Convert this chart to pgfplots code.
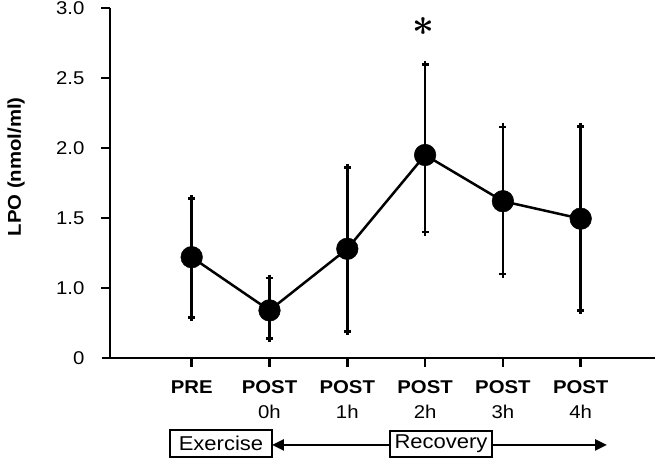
\documentclass[border=0pt]{standalone}
\usepackage{pgfplots}
\pgfplotsset{compat=1.18}
\usepackage{pgfplotstable}
\usepackage{graphicx}
\usepackage{fontspec}
\setmainfont{Liberation Sans}[FakeStretch=1.1]
\usetikzlibrary{arrows.meta}

% LPO concentration: mean, upper and lower error
\pgfplotstableread{
x y     ep    em
0 1.22  0.42  0.43
1 0.84  0.23  0.20
2 1.28  0.58  0.59
3 1.95  0.645 0.55
4 1.62  0.53  0.52
5 1.495 0.66  0.655
}\lpo

\newcommand\lab{\fontsize{18.5}{25}\selectfont}
\protected\def\bigast{\scalebox{3.8}{\boldmath$\ast$}}

\begin{document}
\begin{tikzpicture}
\useasboundingbox (0pt,0pt) rectangle (659pt,466pt);
\begin{axis}[
  at={(110pt,108pt)}, anchor=south west,
  scale only axis, width=545pt, height=350pt,
  xmin=-1.050, xmax=5.955,
  ymin=0.5, ymax=3.0,
  axis x line=bottom, axis y line=left,
  axis line style={line width=2.5pt, black, -},
  tick align=outside,
  major tick length=8pt,
  every tick/.style={line width=2.5pt, black},
  xtick={0,1,2,3,4,5},
  xticklabels={\textbf{PRE}, {\textbf{POST}\\0h}, {\textbf{POST}\\1h},
               {\textbf{POST}\\2h}, {\textbf{POST}\\3h}, {\textbf{POST}\\4h}},
  xticklabel style={align=center, font=\lab, anchor=north, yshift=-11pt},
  ytick={0.5,1,1.5,2,2.5,3},
  yticklabels={0,1.0,1.5,2.0,2.5,3.0},
  yticklabel style={font=\lab, anchor=east, xshift=-14pt},
  ylabel={\textbf{LPO (nmol/ml)}},
  ylabel style={at={(axis description cs:-0.1725,0.546)}, anchor=center,
                font=\fontsize{18.5}{22}\selectfont},
  clip=false,
  seg/.style={forget plot, black, line width=2.5pt, mark=none},
]
% axis frame and outward ticks
\addplot[seg] coordinates {(-1.050,3.0) (-1.050,0.5) (5.955,0.5)};
\pgfplotsinvokeforeach{0,1,2,3,4,5}{
  \addplot[seg] coordinates {(#1,0.5) (#1,0.436)};
}
\pgfplotsinvokeforeach{1,1.5,2,2.5,3}{
  \addplot[seg] coordinates {(-1.050,#1) (-1.166,#1)};
}
% error bars
\addplot[forget plot, black, line width=2.5pt, only marks, mark=none,
  error bars/.cd, y dir=both, y explicit,
  error bar style={line width=2.5pt, black},
  error mark options={line width=2.5pt, mark size=3.6pt, black}]
  table[x=x, y=y, y error plus=ep, y error minus=em] {\lpo};
% caps at the bar ends
\addplot[seg] coordinates {(-0.046,1.64)  (0.046,1.64)};
\addplot[seg] coordinates {(-0.046,0.79)  (0.046,0.79)};
\addplot[seg] coordinates {(0.954,1.07)   (1.046,1.07)};
\addplot[seg] coordinates {(0.954,0.64)   (1.046,0.64)};
\addplot[seg] coordinates {(1.954,1.86)   (2.046,1.86)};
\addplot[seg] coordinates {(1.954,0.69)   (2.046,0.69)};
\addplot[seg] coordinates {(2.954,2.595)  (3.046,2.595)};
\addplot[seg] coordinates {(2.954,1.40)   (3.046,1.40)};
\addplot[seg] coordinates {(3.954,2.15)   (4.046,2.15)};
\addplot[seg] coordinates {(3.954,1.10)   (4.046,1.10)};
\addplot[seg] coordinates {(4.954,2.155)  (5.046,2.155)};
\addplot[seg] coordinates {(4.954,0.84)   (5.046,0.84)};
% mean values
\addplot[black, line width=2.5pt,
  mark=*, mark size=10.8pt, mark options={fill=black, draw=black, line width=0.5pt}]
  table[x=x, y=y] {\lpo};
\node[inner sep=0pt] at (axis cs:2.973,2.87) {\bigast};
% phase arrow below the categories
\addplot[seg, {Triangle[length=12pt,width=11pt]}-{Triangle[length=12pt,width=11pt]}]
  coordinates {(1.032,-0.121) (5.338,-0.121)};
\end{axis}
\node[draw, line width=1.2pt, fill=white, minimum width=102pt, minimum height=27pt,
      inner sep=0pt, font=\fontsize{20}{20}\selectfont] at (221pt,22.5pt) {Exercise};
\node[draw, line width=1.2pt, fill=white, minimum width=102pt, minimum height=26pt,
      inner sep=0pt, font=\fontsize{20}{20}\selectfont] at (441pt,22pt) {Recovery};
\end{tikzpicture}
\end{document}
